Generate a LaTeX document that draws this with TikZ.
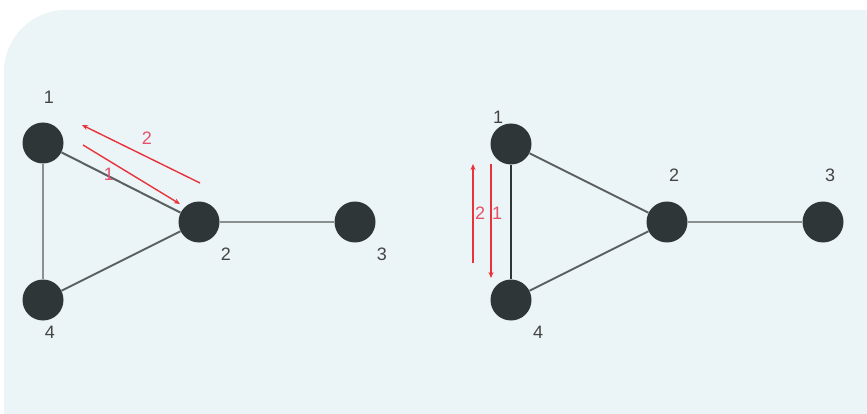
\documentclass[tikz,border=0pt]{standalone}
\usepackage{fontspec}
\setmainfont{Liberation Sans}
\usetikzlibrary{arrows.meta}
\definecolor{bgpanel}{HTML}{EBF4F6}
\definecolor{vert}{HTML}{2F3638}
\definecolor{edgeg}{HTML}{5A5F60}
\definecolor{edgel}{HTML}{8A8F8F}
\definecolor{arr}{HTML}{E8333A}
\definecolor{arrlbl}{HTML}{E8506A}
\definecolor{lbl}{HTML}{444444}
\tikzset{
  vtx/.style={circle, fill=vert, minimum size=41pt, inner sep=0pt},
  num/.style={text=lbl, font=\fontsize{18}{18}\selectfont, inner sep=0pt},
  rnum/.style={text=arrlbl, font=\fontsize{18}{18}\selectfont, inner sep=0pt},
  edge/.style={draw=edgeg, line width=2pt},
  edgelight/.style={draw=edgel, line width=2.4pt},
  edgedark/.style={draw=vert, line width=2.6pt},
  redarr/.style={draw=arr, line width=1.4pt, -{Stealth[length=6pt,width=5pt]}}
}
\begin{document}
\begin{tikzpicture}[x=1pt,y=-1pt]
\useasboundingbox (0,0) rectangle (867,414);
\fill[white] (0,0) rectangle (867,414);
\fill[bgpanel, rounded corners=62pt] (4,10) rectangle (940,480);

% ---------- left graph ----------
\node[vtx] (a1) at (43,143) {};
\node[vtx] (a2) at (199,222) {};
\node[vtx] (a3) at (355,222) {};
\node[vtx] (a4) at (43,300) {};
\draw[edge] (a1) -- (a2);
\draw[edgelight] (a1) -- (a4);
\draw[edge] (a4) -- (a2);
\draw[edgelight] (a2) -- (a3);
\node[num] (la1) at (49,97) {1};
\node[num] (la2) at (226,254) {2};
\node[num] (la3) at (382,254) {3};
\node[num] (la4) at (50,332) {4};
\coordinate (p1s) at (83,145);
\coordinate (p1e) at (180,204);
\coordinate (p2s) at (200,183);
\coordinate (p2e) at (82,125);
\draw[redarr] (p1s) -- (p1e);
\draw[redarr] (p2s) -- (p2e);
\node[rnum] (ra2) at (147,138) {2};
\node[rnum] (ra1) at (109,174) {1};

% ---------- right graph ----------
\node[vtx] (b1) at (511,144) {};
\node[vtx] (b2) at (667,222) {};
\node[vtx] (b3) at (823,222) {};
\node[vtx] (b4) at (511,300) {};
\draw[edge] (b1) -- (b2);
\draw[edge] (b4) -- (b2);
\draw[edgedark] (b1) -- (b4);
\draw[edgelight] (b2) -- (b3);
\node[num] (lb1) at (498,117) {1};
\node[num] (lb2) at (674,175) {2};
\node[num] (lb3) at (830,175) {3};
\node[num] (lb4) at (538,332) {4};
\coordinate (q2s) at (473,263);
\coordinate (q2e) at (473,164);
\coordinate (q1s) at (491,164);
\coordinate (q1e) at (491,278);
\draw[redarr] (q2s) -- (q2e);
\draw[redarr] (q1s) -- (q1e);
\node[rnum] (rb2) at (480,213) {2};
\node[rnum] (rb1) at (497,213) {1};
\end{tikzpicture}
\end{document}
